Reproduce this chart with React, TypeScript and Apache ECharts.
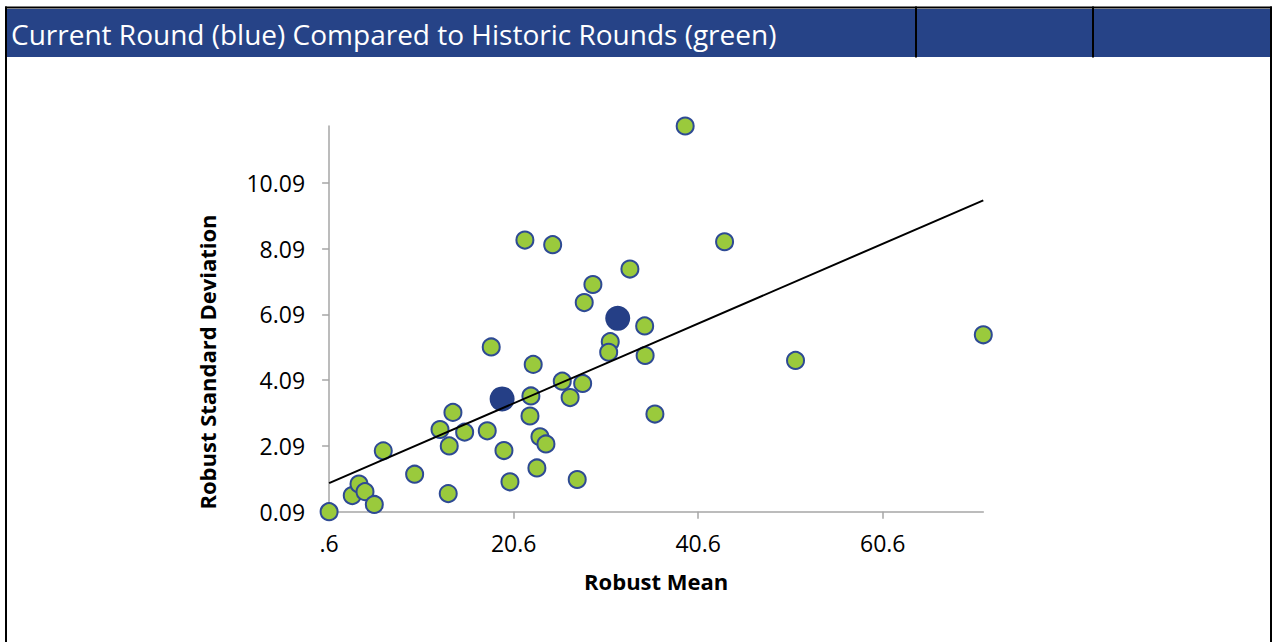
import React, { useEffect, useRef } from "react";
import * as echarts from "echarts";

// Historic rounds (green)
const greenX = [0.6, 3.11, 3.84, 4.49, 5.5, 6.47, 9.87, 12.62, 13.51, 13.62, 14.02, 15.29, 17.74, 18.17, 19.55, 20.2, 21.82, 22.37, 22.47, 22.72, 23.12, 23.45, 24.1, 24.83, 25.87, 26.72, 27.49, 28.08, 28.25, 29.19, 31.07, 30.9, 33.2, 34.8, 34.85, 35.91, 39.19, 43.46, 51.15, 71.5];
const greenY = [0.09, 0.58, 0.93, 0.7, 0.31, 1.94, 1.23, 2.59, 0.64, 2.09, 3.11, 2.51, 2.55, 5.1, 1.95, 1.0, 8.35, 3.0, 3.61, 4.57, 1.42, 2.37, 2.15, 8.21, 4.06, 3.56, 1.07, 3.99, 6.45, 7.0, 5.26, 4.94, 7.47, 5.74, 4.84, 3.06, 11.82, 8.3, 4.69, 5.47];

// Current round (blue)
const blueX = [19.35, 31.88];
const blueY = [3.52, 5.97];

// Trend line end points
const trendX = [0.6, 71.5];
const trendY = [0.96, 9.56];

// Axis ticks
const xTicks = [0.6, 20.6, 40.6, 60.6];
const xTickLabels = [".6", "20.6", "40.6", "60.6"];
const yTicks = [0.09, 2.09, 4.09, 6.09, 8.09, 10.09];
const yTickLabels = ["0.09", "2.09", "4.09", "6.09", "8.09", "10.09"];

const title = "Current Round (blue) Compared to Historic Rounds (green)";
const xName = "Robust Mean";
const yName = "Robust Standard Deviation";

const FONT = "'Open Sans', 'Noto Sans', sans-serif";

export default function App() {
  const ref = useRef<HTMLDivElement>(null);
  useEffect(() => {
    if (!ref.current) return;
    const chart = echarts.init(ref.current, undefined, { renderer: "svg" });
    const zip = (xs: number[], ys: number[]) => xs.map((x, i) => [x, ys[i]]);
    const axisColor = "#A6A6A6";
    chart.setOption({
      animation: false,
      backgroundColor: "#ffffff",
      textStyle: { fontFamily: FONT },
      grid: {
        left: 329.1,
        right: 289.7,
        top: 126,
        bottom: 130.3,
        containLabel: false,
        outerBoundsMode: "none",
      },
      xAxis: {
        type: "value",
        min: 0.6,
        max: 71.5,
        interval: 20,
        splitLine: { show: false },
        axisLine: { show: true, onZero: false, lineStyle: { color: axisColor, width: 1.5 } },
        axisTick: { show: true, length: 7, customValues: xTicks, lineStyle: { color: axisColor, width: 1.5 } },
        axisLabel: {
          customValues: xTicks,
          margin: 20,
          color: "#000",
          fontSize: 23,
          fontFamily: FONT,
          formatter: (v: number) => {
            const i = xTicks.findIndex((t) => Math.abs(t - v) < 1e-6);
            return i >= 0 ? xTickLabels[i] : "";
          },
        },
        name: xName,
        nameLocation: "middle",
        nameGap: 58,
        nameTextStyle: { color: "#000", fontSize: 22, fontWeight: "bold", fontFamily: FONT },
      },
      yAxis: {
        type: "value",
        min: 0.09,
        max: 11.82,
        interval: 2,
        splitLine: { show: false },
        axisLine: { show: true, onZero: false, lineStyle: { color: axisColor, width: 1.5 } },
        axisTick: { show: true, length: 7, customValues: yTicks, lineStyle: { color: axisColor, width: 1.5 } },
        axisLabel: {
          customValues: yTicks,
          margin: 24,
          color: "#000",
          fontSize: 23,
          fontFamily: FONT,
          formatter: (v: number) => {
            const i = yTicks.findIndex((t) => Math.abs(t - v) < 1e-6);
            return i >= 0 ? yTickLabels[i] : "";
          },
        },
      },
      series: [
        {
          type: "scatter",
          name: "Historic",
          data: zip(greenX, greenY),
          symbol: "circle",
          symbolSize: 17,
          itemStyle: { color: "#9ACA3C", borderColor: "#2E4A94", borderWidth: 2, opacity: 1 },
          z: 2,
        },
        {
          type: "scatter",
          name: "Current",
          data: zip(blueX, blueY),
          symbol: "circle",
          symbolSize: 25,
          itemStyle: { color: "#253F86", opacity: 1 },
          z: 3,
        },
        {
          type: "line",
          name: "Trend",
          data: zip(trendX, trendY),
          showSymbol: false,
          symbol: "none",
          lineStyle: { color: "#000", width: 2 },
          z: 4,
        },
      ],
      graphic: [
        { type: "rect", shape: { x: 7, y: 9, width: 1264, height: 48 }, style: { fill: "#264387" }, z: 1 },
        { type: "rect", shape: { x: 5, y: 6.5, width: 1267, height: 2 }, style: { fill: "#000" }, z: 2 },
        { type: "rect", shape: { x: 5, y: 6.5, width: 2, height: 640 }, style: { fill: "#000" }, z: 2 },
        { type: "rect", shape: { x: 1270, y: 6.5, width: 2, height: 640 }, style: { fill: "#000" }, z: 2 },
        { type: "rect", shape: { x: 915, y: 6.5, width: 2, height: 51 }, style: { fill: "#000" }, z: 2 },
        { type: "rect", shape: { x: 1092, y: 6.5, width: 2, height: 51 }, style: { fill: "#000" }, z: 2 },
        {
          type: "text",
          x: 11,
          y: 34,
          z: 3,
          style: {
            text: title,
            fill: "#ffffff",
            fontSize: 28,
            fontFamily: FONT,
            verticalAlign: "middle",
            align: "left",
          },
        },
        {
          type: "text",
          x: 207,
          y: 362,
          rotation: Math.PI / 2,
          z: 3,
          style: {
            text: yName,
            fill: "#000",
            fontSize: 22,
            fontWeight: "bold",
            fontFamily: FONT,
            verticalAlign: "middle",
            align: "center",
          },
        },
      ],
    });
    return () => chart.dispose();
  }, []);
  return (
    <div
      ref={ref}
      style={{ position: "fixed", left: 0, top: 0, width: 1273, height: 642, background: "#fff" }}
    />
  );
}
